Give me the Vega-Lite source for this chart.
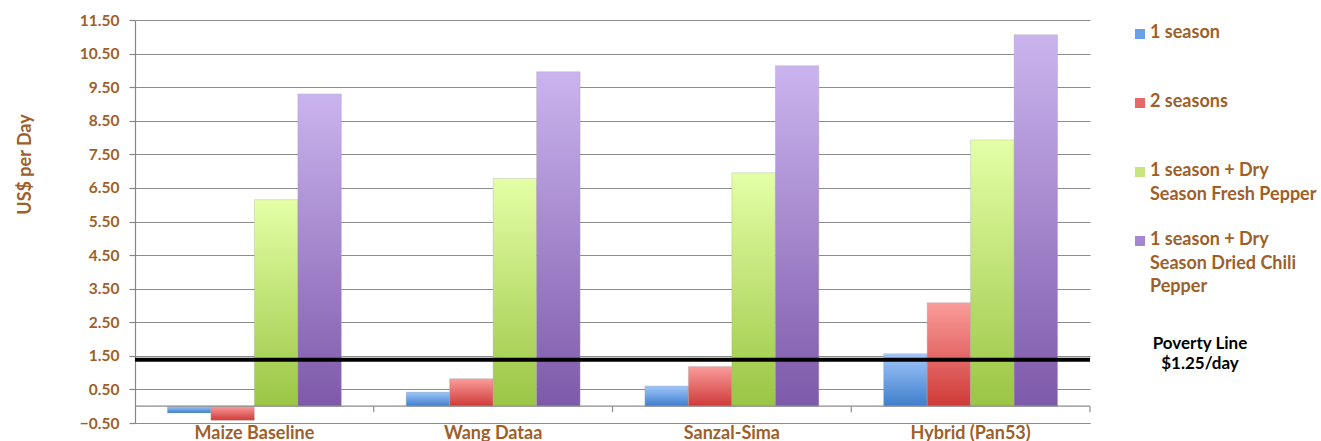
{
  "$schema": "https://vega.github.io/schema/vega-lite/v6.json",
  "width": 955,
  "height": 403,
  "autosize": {"type": "none"},
  "padding": {"left": 135, "top": 20, "right": 231, "bottom": 18},
  "background": "white",
  "config": {
    "view": {"stroke": null},
    "font": "Lato",
    "axisY": {
      "domainColor": "#868686", "domainWidth": 1.2,
      "tickColor": "#868686", "tickSize": 6, "tickWidth": 1.2,
      "gridColor": "#8c8c8c", "gridWidth": 1.2,
      "labelFont": "Lato", "labelFontSize": 15.5, "labelFontWeight": "bold", "labelColor": "#9E5F2A", "labelPadding": 10, "labelOverlap": false,
      "titleFont": "Lato", "titleFontSize": 18, "titleFontWeight": "bold", "titleColor": "#9E5F2A"
    },
    "axisX": {
      "domainColor": "#8c8c8c", "domainWidth": 1.2, "ticks": false, "grid": false,
      "labelFont": "Lato", "labelFontSize": 18, "labelFontWeight": "bold", "labelColor": "#9E5F2A", "labelPadding": 1, "labelAngle": 0
    }
  },
  "datasets": {
    "bars": [
      {"cat": "Maize Baseline", "series": "1 season", "value": -0.2},
      {"cat": "Maize Baseline", "series": "2 seasons", "value": -0.42},
      {"cat": "Maize Baseline", "series": "1 season + Dry Season Fresh Pepper", "value": 6.15},
      {"cat": "Maize Baseline", "series": "1 season + Dry Season Dried Chili Pepper", "value": 9.3},
      {"cat": "Wang Dataa", "series": "1 season", "value": 0.42},
      {"cat": "Wang Dataa", "series": "2 seasons", "value": 0.82},
      {"cat": "Wang Dataa", "series": "1 season + Dry Season Fresh Pepper", "value": 6.78},
      {"cat": "Wang Dataa", "series": "1 season + Dry Season Dried Chili Pepper", "value": 9.96},
      {"cat": "Sanzal-Sima", "series": "1 season", "value": 0.6},
      {"cat": "Sanzal-Sima", "series": "2 seasons", "value": 1.18},
      {"cat": "Sanzal-Sima", "series": "1 season + Dry Season Fresh Pepper", "value": 6.95},
      {"cat": "Sanzal-Sima", "series": "1 season + Dry Season Dried Chili Pepper", "value": 10.14},
      {"cat": "Hybrid (Pan53)", "series": "1 season", "value": 1.56},
      {"cat": "Hybrid (Pan53)", "series": "2 seasons", "value": 3.08},
      {"cat": "Hybrid (Pan53)", "series": "1 season + Dry Season Fresh Pepper", "value": 7.93},
      {"cat": "Hybrid (Pan53)", "series": "1 season + Dry Season Dried Chili Pepper", "value": 11.06}
    ],
    "cats": [
      {"cat": "Maize Baseline"}, {"cat": "Wang Dataa"}, {"cat": "Sanzal-Sima"}, {"cat": "Hybrid (Pan53)"}
    ],
    "zero": [{"value": 0}],
    "poverty": [{"name": "Poverty Line $1.25/day", "value": 1.38}]
  },
  "layer": [
    {
      "data": {"name": "bars"},
      "mark": {"type": "bar", "stroke": "#a8a8a8", "strokeWidth": 0.6, "strokeOpacity": 0.6},
      "encoding": {
        "x": {"field": "cat", "type": "nominal", "title": null,
              "sort": ["Maize Baseline", "Wang Dataa", "Sanzal-Sima", "Hybrid (Pan53)"],
              "scale": {"paddingInner": 0, "paddingOuter": 0}},
        "xOffset": {"field": "series", "type": "nominal",
              "sort": ["1 season", "2 seasons", "1 season + Dry Season Fresh Pepper", "1 season + Dry Season Dried Chili Pepper"],
              "scale": {"paddingInner": 0, "paddingOuter": 0.745}},
        "y": {"field": "value", "type": "quantitative", "title": "US$ per Day",
              "scale": {"domain": [-0.5, 11.5], "nice": false, "zero": false},
              "axis": {"values": [-0.5, 0.5, 1.5, 2.5, 3.5, 4.5, 5.5, 6.5, 7.5, 8.5, 9.5, 10.5, 11.5], "tickCount": 30, "format": ".2f", "labelOverlap": false,
                       "titleAngle": 270, "titleX": -110, "titleY": 144, "titleAlign": "center", "titleBaseline": "middle"}},
        "fill": {
          "condition": [
            {"test": "datum.series === '1 season'", "value": {"gradient": "linear", "x1": 0, "y1": 0, "x2": 0, "y2": 1, "stops": [{"offset": 0, "color": "#A0C6FA"}, {"offset": 1, "color": "#3E7ECB"}]}},
            {"test": "datum.series === '2 seasons'", "value": {"gradient": "linear", "x1": 0, "y1": 0, "x2": 0, "y2": 1, "stops": [{"offset": 0, "color": "#FA9C9A"}, {"offset": 1, "color": "#CF3A38"}]}},
            {"test": "datum.series === '1 season + Dry Season Fresh Pepper'", "value": {"gradient": "linear", "x1": 0, "y1": 0, "x2": 0, "y2": 1, "stops": [{"offset": 0, "color": "#E4FFA6"}, {"offset": 1, "color": "#9AC544"}]}}
          ],
          "value": {"gradient": "linear", "x1": 0, "y1": 0, "x2": 0, "y2": 1, "stops": [{"offset": 0, "color": "#CAB4EE"}, {"offset": 1, "color": "#7E59AA"}]}
        }
      }
    },
    {
      "data": {"name": "bars"},
      "mark": {"type": "square", "size": 0, "filled": true},
      "encoding": {
        "x": {"field": "cat", "type": "nominal", "title": null,
              "sort": ["Maize Baseline", "Wang Dataa", "Sanzal-Sima", "Hybrid (Pan53)"]},
        "xOffset": {"field": "series", "type": "nominal",
              "sort": ["1 season", "2 seasons", "1 season + Dry Season Fresh Pepper", "1 season + Dry Season Dried Chili Pepper"]},
        "y": {"field": "value", "type": "quantitative", "title": "US$ per Day"},
        "color": {"field": "series", "type": "nominal",
          "scale": {"domain": ["1 season", "2 seasons", "1 season + Dry Season Fresh Pepper", "1 season + Dry Season Dried Chili Pepper"],
                    "range": ["#6C9FE6", "#E56B69", "#C8E57F", "#A487CF"]},
          "legend": {"title": null, "orient": "none", "legendX": 996, "legendY": 5,
                     "symbolType": "square", "symbolSize": 100, "symbolOpacity": 1,
                     "labelFont": "Lato", "labelFontSize": 18, "labelFontWeight": "bold", "labelColor": "#9E5F2A",
                     "labelBaseline": "top", "labelLimit": 0, "labelOffset": 1, "rowPadding": 3,
                     "labelExpr": "datum.label === '1 season + Dry Season Fresh Pepper' ? ['1 season + Dry', 'Season Fresh Pepper', ''] : datum.label === '1 season + Dry Season Dried Chili Pepper' ? ['1 season + Dry', 'Season Dried Chili', 'Pepper'] : [datum.label, '', '']",
                     "encode": {"labels": {"update": {"lineHeight": {"value": 23.7}, "dy": {"value": -10}}}}}}
      }
    },
    {
      "data": {"name": "zero"},
      "mark": {"type": "rule", "color": "#8c8c8c", "strokeWidth": 1.2},
      "encoding": {"y": {"field": "value", "type": "quantitative", "title": "US$ per Day"}}
    },
    {
      "data": {"name": "cats"},
      "mark": {"type": "rule", "color": "#8c8c8c", "strokeWidth": 1.2},
      "encoding": {
        "x": {"field": "cat", "type": "nominal", "title": null, "bandPosition": 1,
              "sort": ["Maize Baseline", "Wang Dataa", "Sanzal-Sima", "Hybrid (Pan53)"]},
        "y": {"datum": 0, "type": "quantitative"},
        "y2": {"datum": -0.18}
      }
    },
    {
      "data": {"name": "poverty"},
      "mark": {"type": "rule", "strokeWidth": 4},
      "encoding": {
        "y": {"field": "value", "type": "quantitative", "title": "US$ per Day"},
        "stroke": {"field": "name", "type": "nominal",
          "scale": {"range": ["#000000"]},
          "legend": {"title": null, "orient": "none", "legendX": 1036, "legendY": 307,
                     "symbolOpacity": 0, "symbolSize": 0, "symbolStrokeWidth": 0,
                     "labelFont": "Lato", "labelFontSize": 17, "labelFontWeight": "bold", "labelColor": "#000000",
                     "labelAlign": "center", "labelBaseline": "top", "labelOffset": 12, "labelLimit": 0,
                     "labelExpr": "['Poverty Line', '$1.25/day']",
                     "encode": {"labels": {"update": {"lineHeight": {"value": 20.5}}}}}}
      }
    }
  ]
}
